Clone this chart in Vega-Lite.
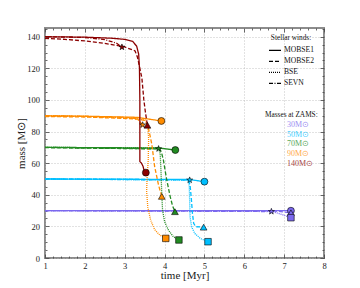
{
  "$schema": "https://vega.github.io/schema/vega-lite/v6.json",
  "width": 279,
  "height": 230,
  "autosize": {"type": "none"},
  "padding": {"left": 45, "top": 28, "right": 36, "bottom": 30},
  "background": "white",
  "config": {
    "view": {"stroke": "#8c8c8c", "strokeWidth": 2},
    "axis": {"labelFont": "Liberation Serif", "titleFont": "Liberation Serif", "titleFontWeight": "normal", "labelFontSize": 8.5, "titleFontSize": 11, "domain": false, "labelColor": "#222", "titleColor": "#222", "tickColor": "#444", "tickWidth": 0.8},
    "legend": {"labelFont": "Liberation Serif", "titleFont": "Liberation Serif", "titleFontWeight": "normal", "titleColor": "#111", "labelColor": "#111"}
  },
  "datasets": {
    "lines": [
      {"mass": "30M⊙", "model": "MOBSE1", "o": 0, "t": 1, "m": 30},
      {"mass": "30M⊙", "model": "MOBSE1", "o": 1, "t": 6.7, "m": 30},
      {"mass": "30M⊙", "model": "MOBSE1", "o": 2, "t": 7.17, "m": 29.9},
      {"mass": "30M⊙", "model": "MOBSE2", "o": 0, "t": 1, "m": 30},
      {"mass": "30M⊙", "model": "MOBSE2", "o": 1, "t": 6.7, "m": 29.9},
      {"mass": "30M⊙", "model": "MOBSE2", "o": 2, "t": 7.17, "m": 28.6},
      {"mass": "30M⊙", "model": "BSE", "o": 0, "t": 1, "m": 30},
      {"mass": "30M⊙", "model": "BSE", "o": 1, "t": 6.68, "m": 29.6},
      {"mass": "30M⊙", "model": "BSE", "o": 2, "t": 6.85, "m": 28.3},
      {"mass": "30M⊙", "model": "BSE", "o": 3, "t": 7.0, "m": 27},
      {"mass": "30M⊙", "model": "BSE", "o": 4, "t": 7.17, "m": 25.5},
      {"mass": "30M⊙", "model": "SEVN", "o": 0, "t": 1, "m": 30},
      {"mass": "30M⊙", "model": "SEVN", "o": 1, "t": 6.68, "m": 29.4},
      {"mass": "50M⊙", "model": "MOBSE1", "o": 0, "t": 1, "m": 50},
      {"mass": "50M⊙", "model": "MOBSE1", "o": 1, "t": 4.6, "m": 49.7},
      {"mass": "50M⊙", "model": "MOBSE1", "o": 2, "t": 5.0, "m": 48.3},
      {"mass": "50M⊙", "model": "MOBSE2", "o": 0, "t": 1, "m": 50},
      {"mass": "50M⊙", "model": "MOBSE2", "o": 1, "t": 4.6, "m": 49.5},
      {"mass": "50M⊙", "model": "MOBSE2", "o": 2, "t": 4.64, "m": 46},
      {"mass": "50M⊙", "model": "MOBSE2", "o": 3, "t": 4.67, "m": 38},
      {"mass": "50M⊙", "model": "MOBSE2", "o": 4, "t": 4.7, "m": 28},
      {"mass": "50M⊙", "model": "MOBSE2", "o": 5, "t": 4.73, "m": 22},
      {"mass": "50M⊙", "model": "MOBSE2", "o": 6, "t": 4.78, "m": 19.8},
      {"mass": "50M⊙", "model": "MOBSE2", "o": 7, "t": 4.98, "m": 19.5},
      {"mass": "50M⊙", "model": "BSE", "o": 0, "t": 1, "m": 50},
      {"mass": "50M⊙", "model": "BSE", "o": 1, "t": 4.6, "m": 49.4},
      {"mass": "50M⊙", "model": "BSE", "o": 2, "t": 4.62, "m": 45},
      {"mass": "50M⊙", "model": "BSE", "o": 3, "t": 4.63, "m": 35},
      {"mass": "50M⊙", "model": "BSE", "o": 4, "t": 4.64, "m": 26},
      {"mass": "50M⊙", "model": "BSE", "o": 5, "t": 4.68, "m": 19.5},
      {"mass": "50M⊙", "model": "BSE", "o": 6, "t": 4.76, "m": 15.5},
      {"mass": "50M⊙", "model": "BSE", "o": 7, "t": 4.9, "m": 12.3},
      {"mass": "50M⊙", "model": "BSE", "o": 8, "t": 5.09, "m": 10.3},
      {"mass": "50M⊙", "model": "SEVN", "o": 0, "t": 1, "m": 50},
      {"mass": "50M⊙", "model": "SEVN", "o": 1, "t": 4.63, "m": 49.3},
      {"mass": "70M⊙", "model": "MOBSE1", "o": 0, "t": 1, "m": 70},
      {"mass": "70M⊙", "model": "MOBSE1", "o": 1, "t": 3.85, "m": 69.6},
      {"mass": "70M⊙", "model": "MOBSE1", "o": 2, "t": 4.27, "m": 68.3},
      {"mass": "70M⊙", "model": "MOBSE2", "o": 0, "t": 1, "m": 69.8},
      {"mass": "70M⊙", "model": "MOBSE2", "o": 1, "t": 3.88, "m": 69},
      {"mass": "70M⊙", "model": "MOBSE2", "o": 2, "t": 3.92, "m": 67},
      {"mass": "70M⊙", "model": "MOBSE2", "o": 3, "t": 3.97, "m": 62},
      {"mass": "70M⊙", "model": "MOBSE2", "o": 4, "t": 4.05, "m": 50},
      {"mass": "70M⊙", "model": "MOBSE2", "o": 5, "t": 4.14, "m": 39},
      {"mass": "70M⊙", "model": "MOBSE2", "o": 6, "t": 4.2, "m": 33},
      {"mass": "70M⊙", "model": "MOBSE2", "o": 7, "t": 4.26, "m": 29.3},
      {"mass": "70M⊙", "model": "BSE", "o": 0, "t": 1, "m": 70},
      {"mass": "70M⊙", "model": "BSE", "o": 1, "t": 3.85, "m": 69.5},
      {"mass": "70M⊙", "model": "BSE", "o": 2, "t": 3.89, "m": 66},
      {"mass": "70M⊙", "model": "BSE", "o": 3, "t": 3.91, "m": 55},
      {"mass": "70M⊙", "model": "BSE", "o": 4, "t": 3.93, "m": 40},
      {"mass": "70M⊙", "model": "BSE", "o": 5, "t": 3.95, "m": 30},
      {"mass": "70M⊙", "model": "BSE", "o": 6, "t": 4.0, "m": 23},
      {"mass": "70M⊙", "model": "BSE", "o": 7, "t": 4.1, "m": 17.5},
      {"mass": "70M⊙", "model": "BSE", "o": 8, "t": 4.22, "m": 13.5},
      {"mass": "70M⊙", "model": "BSE", "o": 9, "t": 4.36, "m": 11.4},
      {"mass": "70M⊙", "model": "SEVN", "o": 0, "t": 1, "m": 70},
      {"mass": "70M⊙", "model": "SEVN", "o": 1, "t": 3.85, "m": 69.1},
      {"mass": "90M⊙", "model": "MOBSE1", "o": 0, "t": 1, "m": 90},
      {"mass": "90M⊙", "model": "MOBSE1", "o": 1, "t": 2, "m": 89.7},
      {"mass": "90M⊙", "model": "MOBSE1", "o": 2, "t": 3.3, "m": 89},
      {"mass": "90M⊙", "model": "MOBSE1", "o": 3, "t": 3.92, "m": 86.7},
      {"mass": "90M⊙", "model": "MOBSE2", "o": 0, "t": 1, "m": 89.5},
      {"mass": "90M⊙", "model": "MOBSE2", "o": 1, "t": 2, "m": 89.2},
      {"mass": "90M⊙", "model": "MOBSE2", "o": 2, "t": 3.3, "m": 88},
      {"mass": "90M⊙", "model": "MOBSE2", "o": 3, "t": 3.5, "m": 87},
      {"mass": "90M⊙", "model": "MOBSE2", "o": 4, "t": 3.58, "m": 84},
      {"mass": "90M⊙", "model": "MOBSE2", "o": 5, "t": 3.63, "m": 78},
      {"mass": "90M⊙", "model": "MOBSE2", "o": 6, "t": 3.68, "m": 72},
      {"mass": "90M⊙", "model": "MOBSE2", "o": 7, "t": 3.75, "m": 58},
      {"mass": "90M⊙", "model": "MOBSE2", "o": 8, "t": 3.85, "m": 46},
      {"mass": "90M⊙", "model": "MOBSE2", "o": 9, "t": 3.93, "m": 39},
      {"mass": "90M⊙", "model": "BSE", "o": 0, "t": 1, "m": 90},
      {"mass": "90M⊙", "model": "BSE", "o": 1, "t": 2, "m": 89.5},
      {"mass": "90M⊙", "model": "BSE", "o": 2, "t": 3.2, "m": 88.5},
      {"mass": "90M⊙", "model": "BSE", "o": 3, "t": 3.52, "m": 87.2},
      {"mass": "90M⊙", "model": "BSE", "o": 4, "t": 3.58, "m": 83},
      {"mass": "90M⊙", "model": "BSE", "o": 5, "t": 3.6, "m": 75},
      {"mass": "90M⊙", "model": "BSE", "o": 6, "t": 3.59, "m": 62},
      {"mass": "90M⊙", "model": "BSE", "o": 7, "t": 3.56, "m": 50},
      {"mass": "90M⊙", "model": "BSE", "o": 8, "t": 3.55, "m": 42},
      {"mass": "90M⊙", "model": "BSE", "o": 9, "t": 3.58, "m": 32},
      {"mass": "90M⊙", "model": "BSE", "o": 10, "t": 3.65, "m": 24},
      {"mass": "90M⊙", "model": "BSE", "o": 11, "t": 3.75, "m": 18},
      {"mass": "90M⊙", "model": "BSE", "o": 12, "t": 3.88, "m": 14.5},
      {"mass": "90M⊙", "model": "BSE", "o": 13, "t": 4.03, "m": 12.4},
      {"mass": "90M⊙", "model": "SEVN", "o": 0, "t": 1, "m": 90},
      {"mass": "90M⊙", "model": "SEVN", "o": 1, "t": 2, "m": 89.6},
      {"mass": "90M⊙", "model": "SEVN", "o": 2, "t": 3.2, "m": 88.8},
      {"mass": "90M⊙", "model": "SEVN", "o": 3, "t": 3.35, "m": 87},
      {"mass": "90M⊙", "model": "SEVN", "o": 4, "t": 3.45, "m": 84.2},
      {"mass": "140M⊙", "model": "MOBSE1", "o": 0, "t": 1, "m": 140},
      {"mass": "140M⊙", "model": "MOBSE1", "o": 1, "t": 2, "m": 139.7},
      {"mass": "140M⊙", "model": "MOBSE1", "o": 2, "t": 2.7, "m": 139},
      {"mass": "140M⊙", "model": "MOBSE1", "o": 3, "t": 3.0, "m": 138.3},
      {"mass": "140M⊙", "model": "MOBSE1", "o": 4, "t": 3.2, "m": 137},
      {"mass": "140M⊙", "model": "MOBSE1", "o": 5, "t": 3.3, "m": 134},
      {"mass": "140M⊙", "model": "MOBSE1", "o": 6, "t": 3.35, "m": 129},
      {"mass": "140M⊙", "model": "MOBSE1", "o": 7, "t": 3.37, "m": 120},
      {"mass": "140M⊙", "model": "MOBSE1", "o": 8, "t": 3.38, "m": 100},
      {"mass": "140M⊙", "model": "MOBSE1", "o": 9, "t": 3.38, "m": 61},
      {"mass": "140M⊙", "model": "MOBSE1", "o": 10, "t": 3.42, "m": 60},
      {"mass": "140M⊙", "model": "MOBSE1", "o": 11, "t": 3.46, "m": 58},
      {"mass": "140M⊙", "model": "MOBSE1", "o": 12, "t": 3.48, "m": 56},
      {"mass": "140M⊙", "model": "MOBSE1", "o": 13, "t": 3.53, "m": 54},
      {"mass": "140M⊙", "model": "MOBSE2", "o": 0, "t": 1, "m": 139},
      {"mass": "140M⊙", "model": "MOBSE2", "o": 1, "t": 1.5, "m": 138.3},
      {"mass": "140M⊙", "model": "MOBSE2", "o": 2, "t": 2, "m": 137.3},
      {"mass": "140M⊙", "model": "MOBSE2", "o": 3, "t": 2.5, "m": 135.8},
      {"mass": "140M⊙", "model": "MOBSE2", "o": 4, "t": 3, "m": 133.5},
      {"mass": "140M⊙", "model": "MOBSE2", "o": 5, "t": 3.26, "m": 131},
      {"mass": "140M⊙", "model": "MOBSE2", "o": 6, "t": 3.32, "m": 127},
      {"mass": "140M⊙", "model": "MOBSE2", "o": 7, "t": 3.38, "m": 120},
      {"mass": "140M⊙", "model": "MOBSE2", "o": 8, "t": 3.43, "m": 114},
      {"mass": "140M⊙", "model": "MOBSE2", "o": 9, "t": 3.48, "m": 100},
      {"mass": "140M⊙", "model": "MOBSE2", "o": 10, "t": 3.52, "m": 92},
      {"mass": "140M⊙", "model": "MOBSE2", "o": 11, "t": 3.57, "m": 84},
      {"mass": "140M⊙", "model": "SEVN", "o": 0, "t": 1, "m": 140},
      {"mass": "140M⊙", "model": "SEVN", "o": 1, "t": 2, "m": 139.5},
      {"mass": "140M⊙", "model": "SEVN", "o": 2, "t": 2.5, "m": 138.2},
      {"mass": "140M⊙", "model": "SEVN", "o": 3, "t": 2.8, "m": 135.8},
      {"mass": "140M⊙", "model": "SEVN", "o": 4, "t": 2.93, "m": 133.4}
    ],
    "ends": [
      {"mass": "30M⊙", "kind": "MOBSE1 end", "t": 7.17, "m": 29.9},
      {"mass": "30M⊙", "kind": "MOBSE2 end", "t": 7.17, "m": 28.6},
      {"mass": "30M⊙", "kind": "BSE end", "t": 7.17, "m": 25.5},
      {"mass": "30M⊙", "kind": "SEVN end", "t": 6.68, "m": 29.4},
      {"mass": "50M⊙", "kind": "MOBSE1 end", "t": 5.0, "m": 48.3},
      {"mass": "50M⊙", "kind": "MOBSE2 end", "t": 4.98, "m": 19.5},
      {"mass": "50M⊙", "kind": "BSE end", "t": 5.09, "m": 10.3},
      {"mass": "50M⊙", "kind": "SEVN end", "t": 4.63, "m": 49.3},
      {"mass": "70M⊙", "kind": "MOBSE1 end", "t": 4.27, "m": 68.3},
      {"mass": "70M⊙", "kind": "MOBSE2 end", "t": 4.26, "m": 29.3},
      {"mass": "70M⊙", "kind": "BSE end", "t": 4.36, "m": 11.4},
      {"mass": "70M⊙", "kind": "SEVN end", "t": 3.85, "m": 69.1},
      {"mass": "90M⊙", "kind": "MOBSE1 end", "t": 3.92, "m": 86.7},
      {"mass": "90M⊙", "kind": "MOBSE2 end", "t": 3.93, "m": 39},
      {"mass": "90M⊙", "kind": "BSE end", "t": 4.03, "m": 12.4},
      {"mass": "90M⊙", "kind": "SEVN end", "t": 3.45, "m": 84.2},
      {"mass": "140M⊙", "kind": "MOBSE1 end", "t": 3.53, "m": 54},
      {"mass": "140M⊙", "kind": "MOBSE2 end", "t": 3.57, "m": 84},
      {"mass": "140M⊙", "kind": "SEVN end", "t": 2.93, "m": 133.4}
    ]
  },
  "resolve": {"axis": {"x": "independent", "y": "independent"}},
  "layer": [
    {
      "data": {"name": "lines"},
      "mark": {"type": "line", "strokeWidth": 1.3},
      "encoding": {
        "x": {"field": "t", "type": "quantitative", "scale": {"domain": [1, 8], "nice": false, "zero": false},
          "axis": {"orient": "bottom", "title": "time [Myr]", "values": [1, 2, 3, 4, 5, 6, 7, 8], "grid": true, "gridDash": [1, 2], "gridColor": "#b5b5b5", "gridWidth": 0.8, "ticks": false, "labelPadding": 3, "titlePadding": 0, "labelFlush": false}},
        "y": {"field": "m", "type": "quantitative", "scale": {"domain": [0, 145.5], "nice": false},
          "axis": {"orient": "left", "title": "mass [M⊙]", "values": [0, 20, 40, 60, 80, 100, 120, 140], "grid": true, "gridDash": [1, 2], "gridColor": "#b5b5b5", "gridWidth": 0.8, "ticks": false, "labelPadding": 5.5, "titlePadding": 0, "labelFlush": false}},
        "color": {"field": "mass", "type": "nominal",
          "scale": {"domain": ["30M⊙", "50M⊙", "70M⊙", "90M⊙", "140M⊙"], "range": ["#7B68EE", "#00BFFF", "#228B22", "#FF8C00", "#8B0000"]},
          "legend": {"orient": "none", "legendX": 220, "legendY": 83, "title": "Masses at ZAMS:", "titleFontSize": 7.3, "labelFontSize": 8, "symbolOpacity": 0, "symbolSize": 1, "symbolStrokeWidth": 0, "labelOffset": 14, "rowPadding": 1.8, "padding": 0, "titlePadding": 2.5,
            "encode": {"labels": {"update": {"fill": {"scale": "color", "field": "value"}, "opacity": {"value": 0.75}}}}}},
        "strokeDash": {"field": "model", "type": "nominal",
          "scale": {"domain": ["MOBSE1", "MOBSE2", "BSE", "SEVN"], "range": [[1, 0], [4, 2], [1, 1], [4, 1.5, 1, 1.5]]},
          "legend": {"orient": "none", "legendX": 223, "legendY": 6, "title": "Stellar winds:", "titleFontSize": 7.3, "labelFontSize": 7.6, "symbolStrokeColor": "black", "symbolStrokeWidth": 1.2, "symbolSize": 144, "symbolType": "stroke", "labelOffset": 2, "rowPadding": -1.3, "padding": 0, "titlePadding": 2, "titleAnchor": "middle"}},
        "order": {"field": "o", "type": "quantitative"}
      }
    },
    {
      "data": {"name": "ends"},
      "mark": {"type": "point", "filled": true, "opacity": 1, "stroke": "black", "strokeWidth": 0.6},
      "encoding": {
        "x": {"field": "t", "type": "quantitative", "scale": {"domain": [1, 8], "nice": false, "zero": false}, "axis": null},
        "y": {"field": "m", "type": "quantitative", "scale": {"domain": [0, 145.5], "nice": false}, "axis": null},
        "color": {"field": "mass", "type": "nominal", "legend": null},
        "shape": {"field": "kind", "type": "nominal", "scale": {"domain": ["MOBSE1 end", "MOBSE2 end", "BSE end", "SEVN end"], "range": ["circle", "triangle-up", "square", "M0,-1L0.235,-0.324L0.951,-0.309L0.38,0.124L0.588,0.809L0,0.4L-0.588,0.809L-0.38,0.124L-0.951,-0.309L-0.235,-0.324Z"]}, "legend": null},
        "size": {"field": "kind", "type": "nominal", "scale": {"domain": ["MOBSE1 end", "MOBSE2 end", "BSE end", "SEVN end"], "range": [48, 40, 42, 120]}, "legend": null}
      }
    },
    {
      "data": {"name": "ends"},
      "mark": {"type": "point", "opacity": 0},
      "encoding": {
        "x": {"field": "t", "type": "quantitative", "axis": {"orient": "bottom", "title": null, "labels": false, "grid": false, "values": [1, 2, 3, 4, 5, 6, 7, 8], "tickSize": -4}},
        "y": {"field": "m", "type": "quantitative", "axis": {"orient": "left", "title": null, "labels": false, "grid": false, "values": [0, 20, 40, 60, 80, 100, 120, 140], "tickSize": -4}}
      }
    },
    {
      "data": {"name": "ends"},
      "mark": {"type": "point", "opacity": 0},
      "encoding": {
        "x": {"field": "t", "type": "quantitative", "axis": {"orient": "top", "title": null, "labels": false, "grid": false, "values": [1, 2, 3, 4, 5, 6, 7, 8], "tickSize": -4}},
        "y": {"field": "m", "type": "quantitative", "axis": {"orient": "right", "title": null, "labels": false, "grid": false, "values": [0, 20, 40, 60, 80, 100, 120, 140], "tickSize": -4}}
      }
    },
    {
      "data": {"name": "ends"},
      "mark": {"type": "point", "opacity": 0},
      "encoding": {
        "x": {"field": "t", "type": "quantitative", "axis": {"orient": "bottom", "title": null, "labels": false, "grid": false, "values": [1.2, 1.4, 1.6, 1.8, 2.2, 2.4, 2.6, 2.8, 3.2, 3.4, 3.6, 3.8, 4.2, 4.4, 4.6, 4.8, 5.2, 5.4, 5.6, 5.8, 6.2, 6.4, 6.6, 6.8, 7.2, 7.4, 7.6, 7.8], "tickSize": -2}},
        "y": {"field": "m", "type": "quantitative", "axis": {"orient": "left", "title": null, "labels": false, "grid": false, "values": [5, 10, 15, 25, 30, 35, 45, 50, 55, 65, 70, 75, 85, 90, 95, 105, 110, 115, 125, 130, 135, 145], "tickSize": -2}}
      }
    },
    {
      "data": {"name": "ends"},
      "mark": {"type": "point", "opacity": 0},
      "encoding": {
        "x": {"field": "t", "type": "quantitative", "axis": {"orient": "top", "title": null, "labels": false, "grid": false, "values": [1.2, 1.4, 1.6, 1.8, 2.2, 2.4, 2.6, 2.8, 3.2, 3.4, 3.6, 3.8, 4.2, 4.4, 4.6, 4.8, 5.2, 5.4, 5.6, 5.8, 6.2, 6.4, 6.6, 6.8, 7.2, 7.4, 7.6, 7.8], "tickSize": -2}},
        "y": {"field": "m", "type": "quantitative", "axis": {"orient": "right", "title": null, "labels": false, "grid": false, "values": [5, 10, 15, 25, 30, 35, 45, 50, 55, 65, 70, 75, 85, 90, 95, 105, 110, 115, 125, 130, 135, 145], "tickSize": -2}}
      }
    }
  ]
}
